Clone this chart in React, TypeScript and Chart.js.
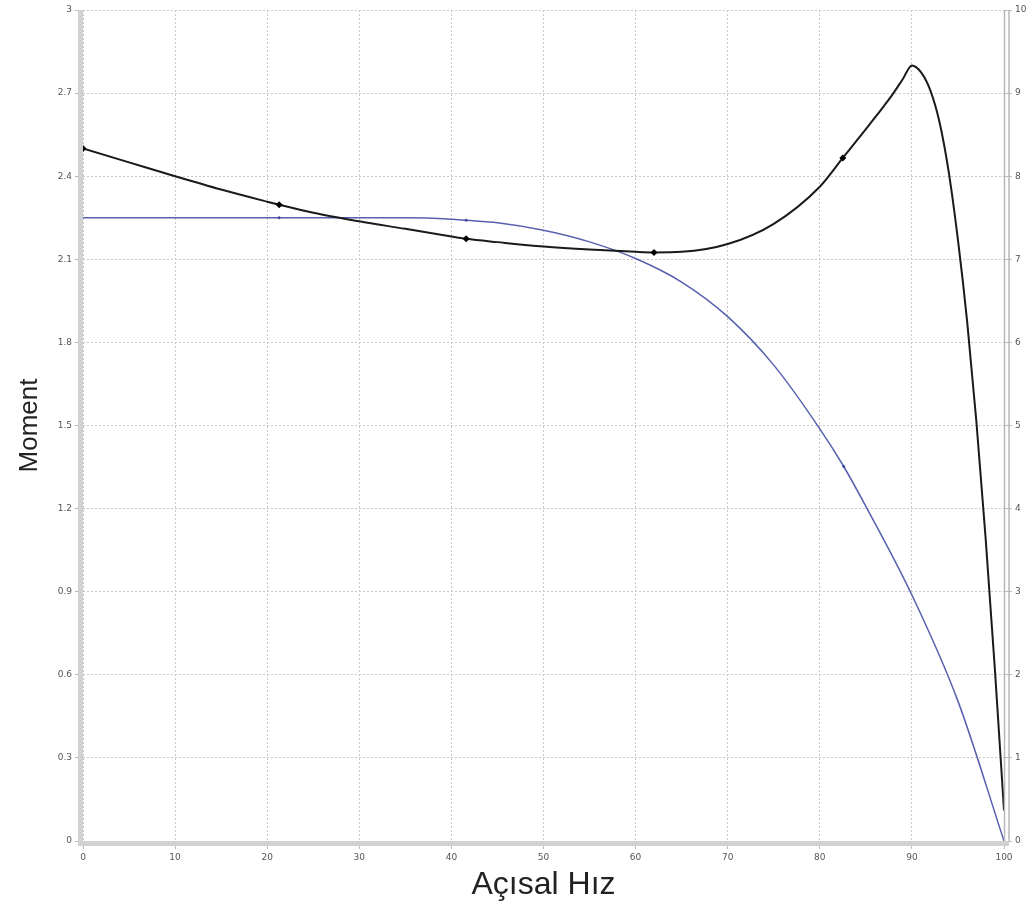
import React, { useEffect, useRef } from "react";
import { Chart, registerables } from "chart.js";

Chart.register(...registerables);

// Black curve (Moment vs Açısal Hız)
const blackSpeed = [0, 5, 10, 15, 20, 21.3, 25, 30, 35, 40, 41.6, 45, 50, 55, 60, 62, 65, 70, 75, 80, 82.5, 85, 86, 87, 88, 89, 90, 91, 92, 93, 94, 95, 96, 97, 98, 99, 100];
const blackMoment = [2.5, 2.45, 2.4, 2.352, 2.308, 2.297, 2.268, 2.237, 2.21, 2.182, 2.174, 2.162, 2.146, 2.135, 2.127, 2.125, 2.127, 2.155, 2.228, 2.362, 2.466, 2.57, 2.612, 2.655, 2.7, 2.75, 2.8, 2.775, 2.71, 2.595, 2.415, 2.17, 1.875, 1.515, 1.095, 0.625, 0.11];
const blackMarkerX = [0, 21.3, 41.6, 62, 82.5];

// Blue curve
const blueSpeed = [0, 10, 21.3, 30, 35, 40, 41.6, 45, 50, 55, 60, 65, 70, 75, 80, 82.6, 85, 90, 95, 100];
const blueMoment = [2.25, 2.25, 2.25, 2.25, 2.25, 2.245, 2.241, 2.232, 2.205, 2.163, 2.103, 2.018, 1.893, 1.718, 1.488, 1.352, 1.208, 0.888, 0.505, 0];
const blueMarkerX = [21.3, 41.6, 82.6];

const xTitle = "Açısal Hız";
const yTitle = "Moment";

const bandPlugin = {
  id: "bands",
  afterDraw(chart: any) {
    const { ctx, chartArea } = chart;
    const { left, right, top, bottom } = chartArea;
    ctx.save();
    ctx.fillStyle = "#d2d2d2";
    ctx.fillRect(left - 5, top, 5, bottom - top + 5);
    ctx.fillRect(left - 5, bottom, right - left + 10, 5);
    ctx.strokeStyle = "#b8b8b8";
    ctx.lineWidth = 1.5;
    ctx.beginPath();
    ctx.moveTo(right + 0.5, top);
    ctx.lineTo(right + 0.5, bottom);
    ctx.moveTo(right + 5, top);
    ctx.lineTo(right + 5, bottom);
    ctx.stroke();
    ctx.restore();
  },
};

export default function App() {
  const ref = useRef<HTMLCanvasElement | null>(null);
  useEffect(() => {
    if (!ref.current) return;
    const tickFont = { family: "DejaVu Sans", size: 9 };
    const chart = new Chart(ref.current, {
      type: "line",
      data: {
        datasets: [
          {
            label: "black",
            data: blackSpeed.map((x, i) => ({ x, y: blackMoment[i] })),
            borderColor: "#1a1a1a",
            backgroundColor: "#000",
            borderWidth: 2,
            cubicInterpolationMode: "monotone",
            pointStyle: "rectRot",
            pointRadius: blackSpeed.map((x) => (blackMarkerX.includes(x) ? 3.5 : 0)),
            pointBorderWidth: 0,
            yAxisID: "y",
          },
          {
            label: "blue",
            data: blueSpeed.map((x, i) => ({ x, y: blueMoment[i] })),
            borderColor: "#5660ae",
            backgroundColor: "#3a4490",
            borderWidth: 1.5,
            cubicInterpolationMode: "monotone",
            pointStyle: "rectRot",
            pointRadius: blueSpeed.map((x) => (blueMarkerX.includes(x) ? 1.8 : 0)),
            pointBorderWidth: 0,
            yAxisID: "y",
          },
        ],
      },
      options: {
        animation: false,
        responsive: true,
        maintainAspectRatio: false,
        layout: { padding: { top: 10, left: 0, right: 0, bottom: 0 } },
        plugins: { legend: { display: false }, tooltip: { enabled: false } },
        scales: {
          x: {
            type: "linear",
            min: 0,
            max: 100,
            ticks: { stepSize: 10, font: tickFont, color: "#555", padding: 3, maxRotation: 0 },
            grid: { color: "#c6c6c6", tickLength: 8, tickColor: "#bbb" },
            border: { display: false, dash: [2, 2] },
            title: {
              display: true,
              text: xTitle,
              font: { family: "Liberation Sans", size: 32 },
              color: "#222",
              padding: { top: 0, bottom: 4 },
            },
            afterFit: (s: any) => {
              s.height = 67;
            },
          },
          y: {
            position: "left",
            min: 0,
            max: 3,
            ticks: {
              stepSize: 0.3,
              font: tickFont,
              color: "#555",
              padding: 3,
              callback: (v: any) => String(Math.round(Number(v) * 10) / 10),
            },
            grid: { color: "#c6c6c6", tickLength: 8, tickColor: "#bbb" },
            border: { display: false, dash: [2, 2] },
            title: {
              display: true,
              text: yTitle,
              font: { family: "Liberation Sans", size: 26 },
              color: "#222",
              padding: { top: 14, bottom: 0 },
            },
            afterFit: (s: any) => {
              s.width = 83;
            },
          },
          y1: {
            position: "right",
            min: 0,
            max: 10,
            ticks: { stepSize: 1, font: tickFont, color: "#555", padding: 3 },
            grid: { drawOnChartArea: false, tickLength: 8, tickColor: "#bbb" },
            border: { display: false },
            afterFit: (s: any) => {
              s.width = 31;
            },
          },
        },
      },
      plugins: [bandPlugin],
    });
    return () => chart.destroy();
  }, []);
  return (
    <div style={{ position: "absolute", left: 0, top: 0, width: 1035, height: 908, background: "#fff" }}>
      <canvas ref={ref} />
    </div>
  );
}
